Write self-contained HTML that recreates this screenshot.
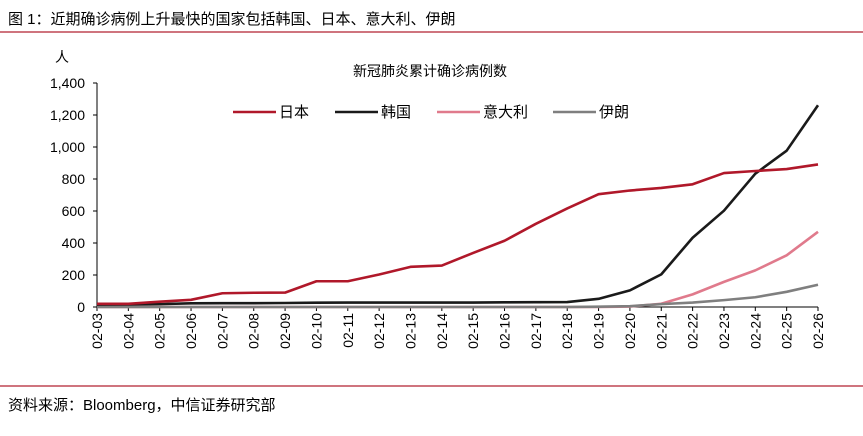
<!DOCTYPE html>
<html><head><meta charset="utf-8"><style>
body{margin:0;width:863px;height:431px;background:#fff;overflow:hidden;font-family:"Liberation Sans","Noto Sans CJK SC",sans-serif;}
svg text{font-family:"Liberation Sans","Noto Sans CJK SC",sans-serif;}
</style></head><body>
<svg width="863" height="431">
<text x="8" y="24" font-size="15" fill="#000">图 1：近期确诊病例上升最快的国家包括韩国、日本、意大利、伊朗</text>
<line x1="0" y1="32" x2="863" y2="32" stroke="#b22030" stroke-width="1.2"/>
<text x="430" y="76" font-size="14" text-anchor="middle">新冠肺炎累计确诊病例数</text>
<text x="62" y="62" font-size="14" text-anchor="middle">人</text>
<g id="legend"></g>
<g id="axes"></g>
<g id="series"></g>
<line x1="0" y1="386" x2="863" y2="386" stroke="#b22030" stroke-width="1.2"/>
<text x="8" y="410" font-size="15">资料来源：Bloomberg，中信证券研究部</text>
</svg>
<script>
const dates=["02-03","02-04","02-05","02-06","02-07","02-08","02-09","02-10","02-11","02-12","02-13","02-14","02-15","02-16","02-17","02-18","02-19","02-20","02-21","02-22","02-23","02-24","02-25","02-26"];
const japan=[20,20,33,45,86,89,90,161,161,203,251,259,338,414,520,616,705,728,744,767,837,850,862,891];
const korea=[15,16,18,23,24,24,25,27,28,28,28,28,28,29,30,31,51,104,204,433,602,833,977,1261];
const italy=[0,0,0,0,0,0,0,0,0,0,0,0,0,0,0,0,0,3,20,79,157,229,323,470];
const iran=[0,0,0,0,0,0,0,0,0,0,0,0,0,0,0,0,2,5,18,28,43,61,95,139];
const yTicks=[0,200,400,600,800,1000,1200,1400];
const yLabels=["0","200","400","600","800","1,000","1,200","1,400"];
const NS="http://www.w3.org/2000/svg";
const x0=97,x1=818,y0=307,y1=83,yMax=1400;
const X=i=>x0+i*(x1-x0)/(dates.length-1);
const Y=v=>y0-v/yMax*(y0-y1);
function mk(t,a,p){const e=document.createElementNS(NS,t);for(const k in a)e.setAttribute(k,a[k]);p.appendChild(e);return e;}
const ax=document.getElementById('axes');
let e=mk('line',{x1:x0,y1:y0,x2:x0,y2:y1,stroke:'#000','stroke-width':1},ax);


e=mk('line',{x1:x0,y1:y0,x2:x1,y2:y0,stroke:'#000','stroke-width':1},ax);


yTicks.forEach((v,i)=>{
 mk('line',{x1:x0-4,y1:Y(v),x2:x0,y2:Y(v),stroke:'#000'},ax);
 const t=mk('text',{x:x0-12,y:Y(v)+5,'font-size':14,'text-anchor':'end'},ax);
 t.textContent=yLabels[i];
 
 
});
dates.forEach((d,i)=>{
 mk('line',{x1:X(i),y1:y0,x2:X(i),y2:y0+4,stroke:'#000'},ax);
 const t=mk('text',{x:0,y:0,'font-size':14,'text-anchor':'end',transform:`translate(${X(i)+5},${y0+6}) rotate(-90)`},ax);
 t.textContent=d;
 
 
});
const se=document.getElementById('series');
const series=[["italy",italy,"#e07a8c","意大利"],["iran",iran,"#7f7f7f","伊朗"],["korea",korea,"#1a1a1a","韩国"],["japan",japan,"#b0182a","日本"]];
series.forEach(s=>{
 const p=mk('polyline',{points:s[1].map((v,i)=>X(i)+','+Y(v)).join(' '),fill:'none',stroke:s[2],'stroke-width':2.6,'stroke-linejoin':'round'},se);
 
 
});
const lg=document.getElementById('legend');
const legOrder=[["japan","#b0182a","日本",233],["korea","#1a1a1a","韩国",335],["italy","#e07a8c","意大利",437],["iran","#7f7f7f","伊朗",553]];
legOrder.forEach(l=>{
 const g=mk('g',{},lg);
 
 
 mk('line',{x1:l[3],y1:112,x2:l[3]+43,y2:112,stroke:l[1],'stroke-width':2.6},g);
 const t=mk('text',{x:l[3]+46,y:117,'font-size':15},g);
 t.textContent=l[2];
});
</script>
</body></html>
